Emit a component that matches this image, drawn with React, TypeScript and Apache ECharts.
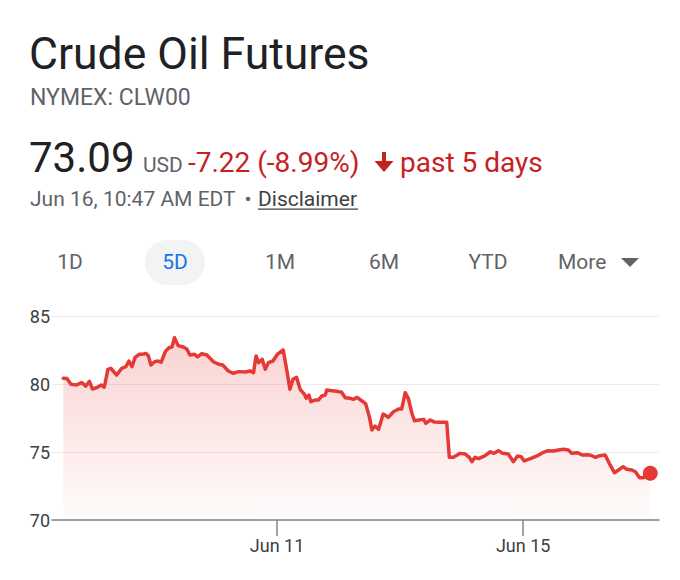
import React, { useEffect, useRef } from "react";
import * as echarts from "echarts";

// time in hours-like units from start of the 5-day window
const times = [
  0.3, 1.0, 1.8, 2.9, 3.9, 4.7, 5.4, 6.0, 6.8, 7.7,
  8.3, 9.0, 9.6, 10.7, 11.7, 12.5, 13.1, 13.7, 14.3, 15.1,
  15.7, 16.4, 16.9, 17.4, 18.1, 18.8, 19.4, 20.2, 20.9, 21.5,
  22.0, 22.7, 23.7, 24.4, 25.0, 25.9, 26.5, 27.3, 28.3, 29.6,
  30.6, 31.4, 32.5, 33.4, 34.5, 35.8, 36.7, 37.4, 37.9, 38.4,
  39.1, 39.7, 40.3, 41.2, 42.1, 43.2, 44.0, 44.5, 45.1, 45.8,
  46.5, 47.3, 47.7, 48.2, 48.6, 49.4, 50.1, 50.7, 51.4, 51.7,
  52.7, 53.7, 54.6, 55.3, 56.2, 56.9, 57.6, 58.5, 59.3, 60.0,
  60.5, 61.1, 61.8, 62.7, 63.7, 64.7, 65.7, 66.3, 67.0, 67.6,
  68.3, 68.8, 69.7, 70.6, 71.0, 71.9, 72.7, 73.8, 75.1, 75.6,
  76.4, 77.7, 78.7, 79.5, 80.0, 80.6, 81.3, 82.5, 83.6, 84.3,
  85.2, 86.0, 87.1, 88.1, 88.9, 89.6, 90.2, 91.4, 92.7, 93.8,
  94.9, 95.9, 96.9, 97.9, 98.8, 99.5, 100.6, 101.5, 102.6, 103.2,
  104.1, 104.9, 106.0, 106.8, 107.8, 108.6, 109.5, 110.2, 111.2, 111.9,
  112.7, 113.5, 114.1, 114.8,
];

const prices = [
  80.42, 80.4, 79.98, 79.93, 80.1, 79.85, 80.2, 79.63, 79.73, 79.93,
  79.76, 81.08, 81.15, 80.66, 81.15, 81.27, 81.69, 81.27, 81.96, 82.18,
  82.18, 82.25, 82.08, 81.4, 81.64, 81.69, 81.6, 82.38, 82.67, 82.72,
  83.4, 82.82, 82.72, 82.57, 82.13, 82.18, 82.0, 82.23, 82.13, 81.64,
  81.45, 81.4, 80.96, 80.79, 80.91, 80.88, 80.96, 80.83, 82.06, 81.57,
  81.82, 81.08, 81.57, 81.69, 82.2, 82.5, 80.79, 79.61, 80.35, 80.49,
  79.61, 79.26, 78.95, 79.19, 78.7, 78.82, 78.82, 79.12, 79.19, 79.56,
  79.51, 79.46, 79.39, 78.99, 78.95, 78.87, 79.02, 78.77, 78.53, 77.6,
  76.62, 76.91, 76.67, 77.79, 77.55, 77.96, 78.16, 78.16, 79.36, 78.95,
  77.85, 77.3, 77.35, 77.4, 77.11, 77.35, 77.2, 77.18, 77.18, 74.61,
  74.61, 74.9, 74.85, 74.61, 74.29, 74.61, 74.51, 74.71, 75.02, 74.9,
  75.1, 74.9, 74.85, 74.29, 74.71, 74.66, 74.34, 74.51, 74.71, 74.95,
  75.1, 75.07, 75.15, 75.2, 75.15, 74.9, 74.95, 74.78, 74.8, 74.76,
  74.61, 74.73, 74.78, 74.17, 73.48, 73.68, 73.92, 73.73, 73.68, 73.55,
  73.11, 73.11, 73.43, 73.43,
];

const xTickValues = [42, 90];
const xTickLabels = ["Jun 11", "Jun 15"];
const yMin = 70;
const yMax = 85;
const yStep = 5;

const tabs = ["1D", "5D", "1M", "6M", "YTD"];
const activeTab = "5D";

const RED_LINE = "#e53935";
const RED_TEXT = "#c5221f";
const FONT = "Roboto, 'Noto Sans', sans-serif";

export default function App() {
  const ref = useRef<HTMLDivElement>(null);

  useEffect(() => {
    if (!ref.current) return;
    document.body.style.margin = "0";
    document.body.style.background = "#fff";
    const chart = echarts.init(ref.current, null, { renderer: "svg" });

    const points = times.map((t, i) => [t, prices[i]]);
    const last = points[points.length - 1];

    const tabCenters = [70, 175, 280, 384, 488];

    const txt = (
      text: string,
      x: number,
      y: number,
      size: number,
      fill: string,
      align: string = "left",
      weight: string = "normal"
    ) => ({
      type: "text",
      silent: true,
      style: {
        text,
        x,
        y,
        fill,
        font: `${weight} ${size}px ${FONT}`,
        textAlign: align,
        textVerticalAlign: "middle",
      },
    });

    const graphics: any[] = [
      txt("Crude Oil Futures", 29, 54, 44.5, "#202124"),
      txt("NYMEX: CLW00", 30, 97, 23, "#5f6368"),
      txt("73.09", 29, 157, 42, "#202124"),
      txt("USD", 143, 165, 21, "#5f6368"),
      txt("-7.22 (-8.99%)", 188, 162.5, 28, RED_TEXT),
      {
        type: "rect",
        silent: true,
        shape: { x: 382, y: 152, width: 4, height: 11 },
        style: { fill: RED_TEXT },
      },
      {
        type: "polygon",
        silent: true,
        shape: {
          points: [
            [374.5, 161],
            [393.5, 161],
            [384, 172],
          ],
        },
        style: { fill: RED_TEXT },
      },
      txt("past 5 days", 400, 162.5, 28, RED_TEXT),
      txt("Jun 16, 10:47 AM EDT", 30, 199, 21, "#5f6368"),
      txt("•", 248, 199, 21, "#5f6368", "center"),
      txt("Disclaimer", 258, 199, 21, "#3c4043"),
      {
        type: "rect",
        silent: true,
        shape: { x: 258, y: 208.5, width: 100, height: 1.2 },
        style: { fill: "#3c4043" },
      },
      {
        type: "rect",
        silent: true,
        shape: { x: 145, y: 240, width: 60, height: 45, r: 22 },
        style: { fill: "#f1f3f4" },
      },
      ...tabs.map((t, i) =>
        txt(t, tabCenters[i], 262, 21, t === activeTab ? "#1a73e8" : "#5f6368", "center")
      ),
      txt("More", 558, 262, 21, "#5f6368"),
      {
        type: "polygon",
        silent: true,
        shape: {
          points: [
            [621, 258],
            [639, 258],
            [630, 267],
          ],
        },
        style: { fill: "#5f6368" },
      },
    ];

    chart.setOption({
      animation: false,
      textStyle: { fontFamily: FONT },
      grid: { left: 52, right: 21, top: 316, bottom: 60, containLabel: false },
      xAxis: {
        type: "value",
        min: -1.9,
        max: 116.5,
        splitLine: { show: false },
        axisLine: { show: true, lineStyle: { color: "#80868b", width: 1.5 } },
        axisTick: {
          show: true,
          customValues: xTickValues,
          length: 16,
          lineStyle: { color: "#80868b", width: 1.5 },
        },
        axisLabel: {
          show: true,
          customValues: xTickValues,
          margin: 16,
          fontSize: 18,
          color: "#3c4043",
          fontFamily: FONT,
          formatter: (v: number) => {
            const idx = xTickValues.findIndex((x) => Math.abs(x - v) < 1e-6);
            return idx >= 0 ? xTickLabels[idx] : "";
          },
        },
      },
      yAxis: {
        type: "value",
        min: yMin,
        max: yMax,
        interval: yStep,
        axisLine: { show: false },
        axisTick: { show: false },
        splitLine: { show: true, lineStyle: { color: "#ebebeb", width: 1 } },
        axisLabel: {
          margin: 2,
          fontSize: 18,
          color: "#3c4043",
          fontFamily: FONT,
        },
      },
      series: [
        {
          type: "line",
          data: points,
          showSymbol: false,
          symbol: "none",
          lineStyle: { color: RED_LINE, width: 3.5, join: "round", cap: "round" },
          areaStyle: {
            color: new echarts.graphic.LinearGradient(0, 0, 0, 1, [
              { offset: 0, color: "rgba(229,57,53,0.32)" },
              { offset: 1, color: "rgba(229,57,53,0.02)" },
            ]),
          },
          z: 2,
        },
        {
          type: "scatter",
          data: [last],
          symbol: "circle",
          symbolSize: 15,
          itemStyle: { color: RED_LINE, opacity: 1 },
          z: 3,
        },
      ],
      graphic: graphics,
    });

    return () => chart.dispose();
  }, []);

  return (
    <div
      ref={ref}
      style={{ position: "absolute", left: 0, top: 0, width: 680, height: 580, background: "#fff" }}
    />
  );
}
